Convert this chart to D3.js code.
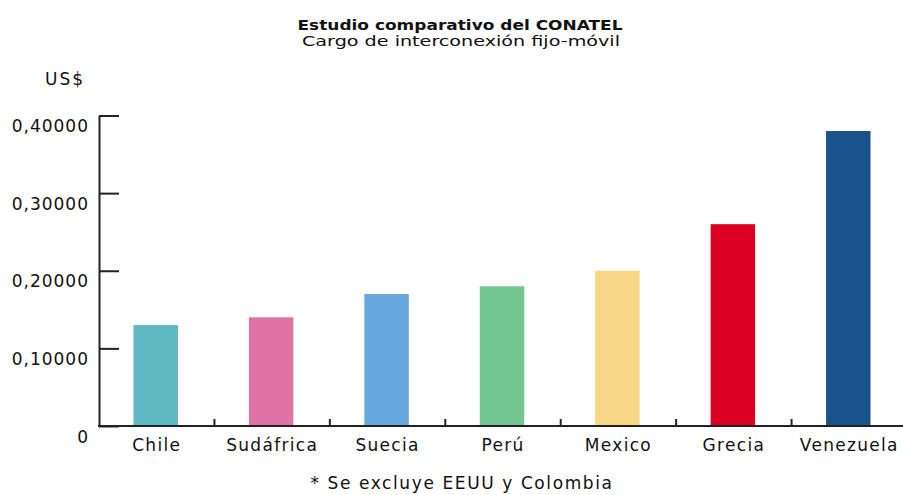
<!DOCTYPE html>
<html>
<head>
<meta charset="utf-8">
<script src="https://cdn.jsdelivr.net/npm/d3@7"></script>
<style>
  body { margin: 0; background: #fff; }
  svg text { fill: #111; }
</style>
</head>
<body>
<div id="chart"></div>
<script>
// Chart data
const countries = ["Chile", "Sudáfrica", "Suecia", "Perú", "Mexico", "Grecia", "Venezuela"];
const charges = [0.13, 0.14, 0.17, 0.18, 0.20, 0.26, 0.38];
const barColors = ["#5fb8c2", "#e073a5", "#66a8de", "#72c68e", "#f6d785", "#dc0025", "#1a528c"];
const yTicks = [0, 0.1, 0.2, 0.3, 0.4];

const width = 903;
const height = 495;
const font = "'DejaVu Sans', Verdana, sans-serif";

const svg = d3.select("#chart")
    .append("svg")
    .attr("width", width)
    .attr("height", height);

// Scales
const x = d3.scaleBand()
    .domain(countries)
    .range([99, 907])
    .padding(0);

const y = d3.scaleLinear()
    .domain([0, 0.4])
    .range([426, 115.5]);

const barW = x.bandwidth() * 0.385;

// Bars
svg.append("g")
    .selectAll("rect")
    .data(countries)
    .enter()
    .append("rect")
    .attr("x", d => x(d) + (x.bandwidth() - barW) / 2 - 1)
    .attr("y", (d, i) => y(charges[i]))
    .attr("width", barW)
    .attr("height", (d, i) => y(0) - y(charges[i]))
    .attr("fill", (d, i) => barColors[i]);

// Y axis, ticks pointing inward
const yAxis = svg.append("g")
    .attr("transform", "translate(99,0)")
    .call(d3.axisLeft(y)
        .tickValues(yTicks)
        .tickSizeInner(-20)
        .tickSizeOuter(0)
        .tickPadding(10)
        .tickFormat(d => d === 0 ? "0" : d3.format(".5f")(d).replace(".", ",")));

yAxis.select(".domain").attr("stroke", "#222").attr("stroke-width", 2);
yAxis.selectAll(".tick line").attr("stroke", "#222").attr("stroke-width", 2);
yAxis.selectAll(".tick text")
    .attr("dy", "0.95em")
    .style("font-family", font)
    .style("font-size", "17px")
    .style("letter-spacing", "1px")
    .style("fill", "#111");

// X axis line
svg.append("line")
    .attr("x1", 98)
    .attr("x2", 907)
    .attr("y1", y(0))
    .attr("y2", y(0))
    .attr("stroke", "#222")
    .attr("stroke-width", 2);

// Small ticks at band boundaries
svg.append("g")
    .selectAll("line")
    .data(countries.slice(1))
    .enter()
    .append("line")
    .attr("x1", d => x(d))
    .attr("x2", d => x(d))
    .attr("y1", y(0))
    .attr("y2", y(0) - 7)
    .attr("stroke", "#222")
    .attr("stroke-width", 2);

// Category labels
const xAxis = svg.append("g")
    .attr("transform", `translate(0,${y(0)})`)
    .call(d3.axisBottom(x).tickSize(0).tickPadding(13));

xAxis.select(".domain").remove();
xAxis.selectAll(".tick text")
    .style("font-family", font)
    .style("font-size", "17px")
    .style("letter-spacing", "1.3px")
    .style("fill", "#111");

// Unit label
svg.append("text")
    .attr("x", 45)
    .attr("y", 85)
    .text("US$")
    .style("font-family", font)
    .style("font-size", "17px")
    .style("letter-spacing", "2px");

// Title and subtitle
svg.append("text")
    .attr("text-anchor", "middle")
    .attr("x", 460)
    .attr("y", 30)
    .attr("textLength", 325)
    .attr("lengthAdjust", "spacingAndGlyphs")
    .text("Estudio comparativo del CONATEL")
    .style("font-family", font)
    .style("font-size", "14.5px")
    .style("font-weight", "bold");

svg.append("text")
    .attr("text-anchor", "middle")
    .attr("x", 461)
    .attr("y", 46)
    .attr("textLength", 318)
    .attr("lengthAdjust", "spacingAndGlyphs")
    .text("Cargo de interconexión fijo-móvil")
    .style("font-family", font)
    .style("font-size", "14px");

// Footnote
svg.append("text")
    .attr("text-anchor", "middle")
    .attr("x", 462)
    .attr("y", 489)
    .text("* Se excluye EEUU y Colombia")
    .style("font-family", font)
    .style("font-size", "17px")
    .style("letter-spacing", "1.6px");
</script>
</body>
</html>
